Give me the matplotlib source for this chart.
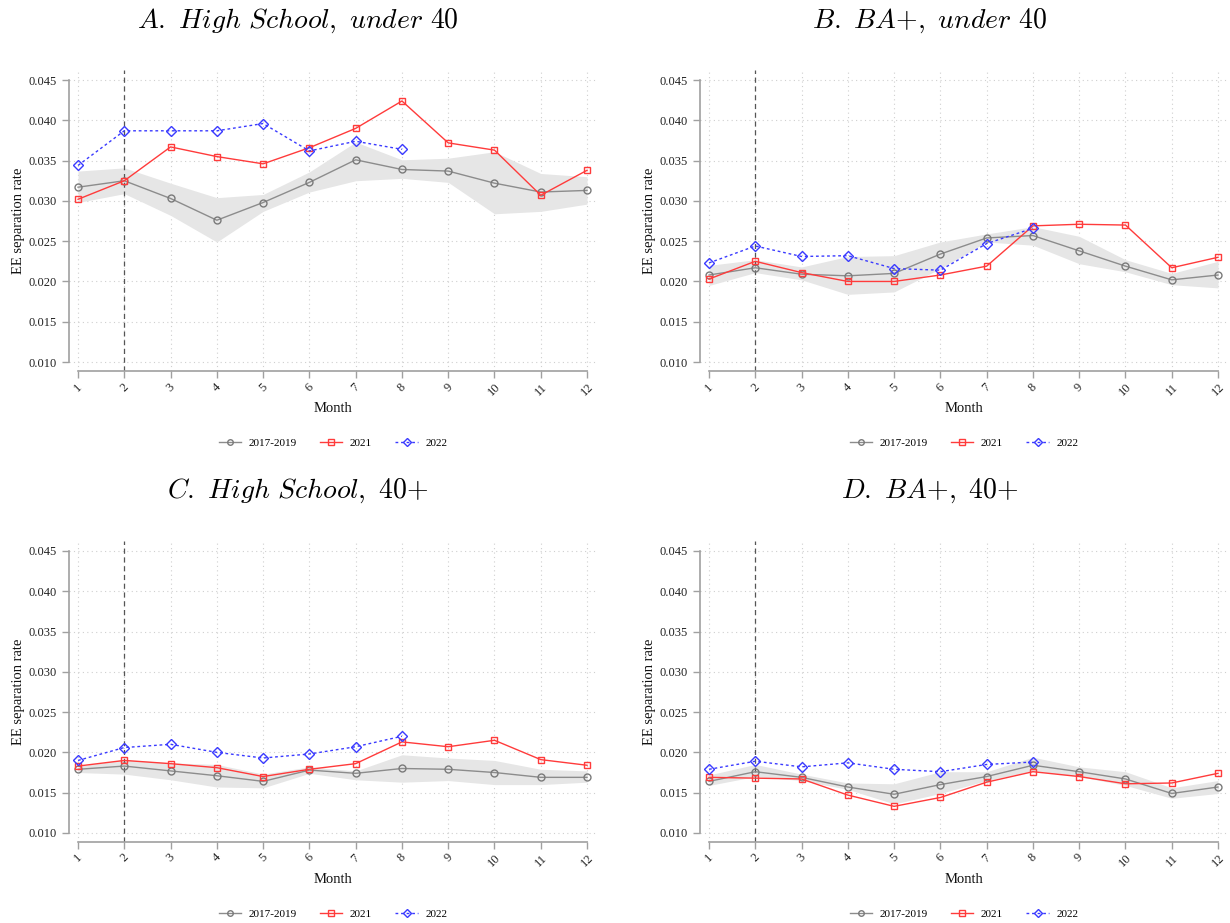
import numpy as np
import matplotlib
matplotlib.use("Agg")
import matplotlib.pyplot as plt

plt.rcParams["font.family"] = ["Liberation Serif", "DejaVu Serif"]
plt.rcParams["mathtext.fontset"] = "cm"

months = list(range(1, 13))

# Panel A: High School, under 40
a_base = [0.0317, 0.0325, 0.0303, 0.0276, 0.0298, 0.0323, 0.0351, 0.0339, 0.0337, 0.0322, 0.0311, 0.0313]
a_lo = [0.0298, 0.0309, 0.0282, 0.0249, 0.0287, 0.0311, 0.0325, 0.0328, 0.0323, 0.0284, 0.0287, 0.0296]
a_hi = [0.0337, 0.0341, 0.0322, 0.0304, 0.0308, 0.0336, 0.0373, 0.0351, 0.0353, 0.0361, 0.0334, 0.0330]
a_2021 = [0.0302, 0.0325, 0.0367, 0.0355, 0.0346, 0.0366, 0.0390, 0.0424, 0.0372, 0.0363, 0.0307, 0.0338]
a_2022 = [0.0344, 0.0387, 0.0387, 0.0387, 0.0396, 0.0362, 0.0374, 0.0364]

# Panel B: BA+, under 40
b_base = [0.0208, 0.0217, 0.0209, 0.0207, 0.0210, 0.0234, 0.0254, 0.0257, 0.0238, 0.0219, 0.0202, 0.0208]
b_lo = [0.0195, 0.0211, 0.0202, 0.0184, 0.0187, 0.0216, 0.0249, 0.0245, 0.0222, 0.0212, 0.0196, 0.0192]
b_hi = [0.0220, 0.0227, 0.0218, 0.0231, 0.0232, 0.0249, 0.0259, 0.0268, 0.0256, 0.0227, 0.0210, 0.0225]
b_2021 = [0.0203, 0.0225, 0.0211, 0.0200, 0.0200, 0.0208, 0.0219, 0.0269, 0.0271, 0.0270, 0.0217, 0.0230]
b_2022 = [0.0223, 0.0244, 0.0231, 0.0232, 0.0216, 0.0214, 0.0247, 0.0266]

# Panel C: High School, 40+
c_base = [0.0179, 0.0183, 0.0177, 0.0171, 0.0164, 0.0178, 0.0174, 0.0180, 0.0179, 0.0175, 0.0169, 0.0169]
c_lo = [0.0175, 0.0173, 0.0166, 0.0157, 0.0156, 0.0174, 0.0166, 0.0163, 0.0165, 0.0160, 0.0160, 0.0163]
c_hi = [0.0183, 0.0191, 0.0187, 0.0185, 0.0173, 0.0182, 0.0177, 0.0197, 0.0193, 0.0190, 0.0179, 0.0177]
c_2021 = [0.0183, 0.0190, 0.0186, 0.0181, 0.0170, 0.0179, 0.0186, 0.0213, 0.0207, 0.0215, 0.0191, 0.0184]
c_2022 = [0.0190, 0.0206, 0.0210, 0.0200, 0.0193, 0.0198, 0.0207, 0.0220]

# Panel D: BA+, 40+
d_base = [0.0164, 0.0176, 0.0169, 0.0157, 0.0148, 0.0160, 0.0170, 0.0184, 0.0176, 0.0167, 0.0149, 0.0157]
d_lo = [0.0159, 0.0170, 0.0165, 0.0154, 0.0136, 0.0149, 0.0165, 0.0177, 0.0170, 0.0159, 0.0143, 0.0149]
d_hi = [0.0172, 0.0185, 0.0173, 0.0162, 0.0161, 0.0176, 0.0176, 0.0194, 0.0182, 0.0176, 0.0156, 0.0165]
d_2021 = [0.0169, 0.0168, 0.0167, 0.0147, 0.0133, 0.0144, 0.0163, 0.0176, 0.0170, 0.0161, 0.0162, 0.0174]
d_2022 = [0.0179, 0.0189, 0.0182, 0.0187, 0.0179, 0.0176, 0.0185, 0.0188]

titles = ["A. High School, under 40", "B. BA+, under 40", "C. High School, 40+", "D. BA+, 40+"]
panels = [
    (a_base, a_lo, a_hi, a_2021, a_2022),
    (b_base, b_lo, b_hi, b_2021, b_2022),
    (c_base, c_lo, c_hi, c_2021, c_2022),
    (d_base, d_lo, d_hi, d_2021, d_2022),
]
yticks = [0.010, 0.015, 0.020, 0.025, 0.030, 0.035, 0.040, 0.045]

GRAY = "#8c8c8c"
RED = "#ff3b3b"
BLUE = "#3a3aff"
SPINE = "#a0a0a0"

fig = plt.figure(figsize=(12.3, 9.23), dpi=100)
fig.patch.set_facecolor("white")

# axes positions (figure fraction): left, bottom, width, height
positions = [
    (0.0561, 0.598, 0.4293, 0.3261),
    (0.5691, 0.598, 0.4293, 0.3261),
    (0.0561, 0.0878, 0.4293, 0.3261),
    (0.5691, 0.0878, 0.4293, 0.3261),
]
# title anchors (figure fraction, baseline)
title_xy = [(0.2423, 0.9697), (0.7561, 0.9697), (0.2423, 0.4605), (0.7561, 0.4605)]


def mathit(s):
    return r"$\mathit{" + s.replace(" ", r"\ ").replace("+", r"{+}") + "}$"


for title, pos, txy, data in zip(titles, positions, title_xy, panels):
    base, lo, hi, y21, y22 = data
    ax = fig.add_axes(pos)

    ax.fill_between(months, lo, hi, color="#e6e6e6", linewidth=0, zorder=1)
    ax.axvline(2, color="#555555", linestyle=(0, (4, 3)), linewidth=0.9, zorder=2)
    ax.plot(months, base, color=GRAY, linewidth=1.0, marker="o", markersize=5,
            markerfacecolor="none", markeredgecolor="#7a7a7a", markeredgewidth=1.0,
            label="2017-2019", zorder=3)
    ax.plot(months, y21, color=RED, linewidth=1.0, marker="s", markersize=5,
            markerfacecolor="none", markeredgewidth=1.0, label="2021", zorder=4)
    ax.plot(months[:len(y22)], y22, color=BLUE, linewidth=1.0, linestyle=(0, (2, 2)),
            marker="D", markersize=5, markerfacecolor="none", markeredgewidth=1.0,
            label="2022", zorder=5)

    ax.set_xlim(0.805, 12.216)
    ax.set_ylim(0.00888, 0.04624)
    ax.set_xticks(months)
    ax.set_xticklabels([str(m) for m in months], rotation=45, ha="center", fontsize=9)
    ax.set_yticks(yticks)
    ax.set_yticklabels([f"{t:.3f}" for t in yticks], fontsize=9)

    ax.grid(True, color="#cfcfcf", linestyle=(0, (1, 3)), linewidth=0.8)
    ax.set_axisbelow(True)

    for side in ["top", "right"]:
        ax.spines[side].set_visible(False)
    ax.spines["left"].set_bounds(0.010, 0.045)
    ax.spines["bottom"].set_bounds(1, 12)
    for side in ["left", "bottom"]:
        ax.spines[side].set_color(SPINE)
        ax.spines[side].set_linewidth(1.2)
    ax.tick_params(axis="both", colors=SPINE, labelcolor="#222222", length=5, width=1.0)
    ax.tick_params(axis="x", pad=2)

    ax.set_xlabel("Month", fontsize=10.5, labelpad=3, color="#111111")
    ax.set_ylabel("EE separation rate", fontsize=10.5, labelpad=3, color="#111111")
    fig.text(txy[0], txy[1], mathit(title), fontsize=20, ha="center", va="baseline")

    ax.legend(loc="upper center", bbox_to_anchor=(0.5, -0.19), ncol=3, frameon=False,
              fontsize=8, handlelength=2.0, columnspacing=2.1, markerscale=0.8,
              handletextpad=0.7)

fig.savefig("out.png", dpi=100, facecolor="white")
